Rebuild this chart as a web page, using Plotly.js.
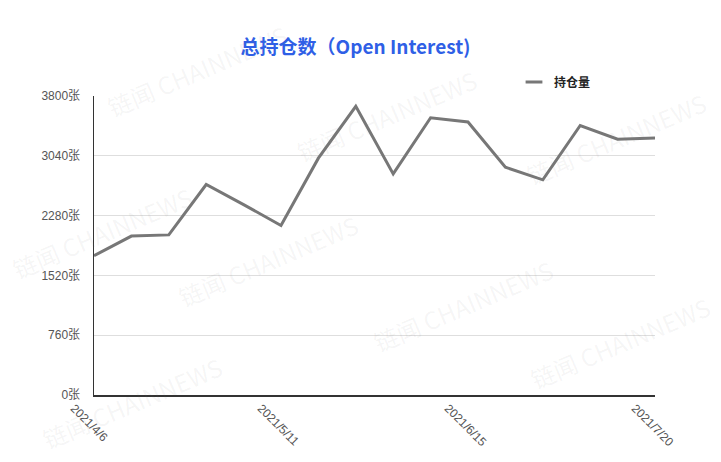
<!DOCTYPE html>
<html>
<head>
<meta charset="utf-8">
<script src="https://cdn.plot.ly/plotly-3.0.1.min.js"></script>
<style>html,body{margin:0;padding:0;background:#fff;}#chart{width:721px;height:462px;}</style>
</head>
<body>
<div id="chart"></div>
<script>
const dates = ["2021-04-06","2021-04-13","2021-04-20","2021-04-27","2021-05-04","2021-05-11","2021-05-18","2021-05-25","2021-06-01","2021-06-08","2021-06-15","2021-06-22","2021-06-29","2021-07-06","2021-07-13","2021-07-20"];
const openInterest = [1770, 2020, 2035, 2675, 2420, 2155, 3010, 3668, 2810, 3524, 3470, 2895, 2735, 3425, 3250, 3266];
const seriesName = "持仓量";
const yTicks = [0, 760, 1520, 2280, 3040, 3800];
const yTickText = yTicks.map(v => v + "张");
const xTickVals = ["2021-04-06","2021-05-11","2021-06-15","2021-07-20"];
const xTickText = ["2021/4/6","2021/5/11","2021/6/15","2021/7/20"];
const titleText = "总持仓数（Open Interest)";
const watermarkText = "链闻 CHAINNEWS";
const watermarkPos = [[197,70],[387,116],[616,138],[102,232],[268,260],[463,305],[620,342],[132,402]];

const font = "Liberation Sans, Noto Sans CJK SC, sans-serif";

const traces = [
  {x: dates, y: openInterest, type: "scatter", mode: "lines", name: seriesName,
   line: {color: "#777777", width: 3}, showlegend: false, hoverinfo: "skip"},
  {x: [null], y: [null], type: "scatter", mode: "markers", name: seriesName,
   marker: {symbol: "line-ew-open", size: 12, color: "#777777", line: {color: "#777777", width: 3}},
   showlegend: true}
];

const annotations = watermarkPos.map(p => ({
  xref: "paper", yref: "paper",
  x: (p[0] - 94) / 561, y: (395 - p[1]) / 299,
  xanchor: "center", yanchor: "middle",
  text: watermarkText, showarrow: false, textangle: -23,
  font: {family: "Noto Sans CJK SC, sans-serif", size: 24, color: "rgba(120,120,120,0.07)"}
}));

const layout = {
  width: 721, height: 462,
  margin: {l: 94, r: 66, t: 96, b: 67},
  paper_bgcolor: "#ffffff", plot_bgcolor: "#ffffff",
  title: {text: "<b>" + titleText + "</b>", x: 0.493, xanchor: "center", yref: "container", y: (462 - 47) / 462, yanchor: "middle",
          font: {family: "Noto Sans CJK SC, sans-serif", size: 19, color: "#2f5fe6"}},
  xaxis: {
    type: "date", range: ["2021-04-06", "2021-07-20"],
    tickvals: xTickVals, ticktext: xTickText, tickangle: 45, ticklabelshift: -20,
    showgrid: false, showline: true, linecolor: "#333333", linewidth: 1.5,
    ticks: "", tickfont: {family: font, size: 12, color: "#555555"},
    zeroline: false, fixedrange: true
  },
  yaxis: {
    range: [0, 3800], tickvals: yTicks, ticktext: yTickText,
    showgrid: true, gridcolor: "#dedede", gridwidth: 1,
    showline: true, linecolor: "#333333", linewidth: 1.5,
    ticks: "", ticklabelstandoff: 10,
    tickfont: {family: font, size: 12, color: "#555555"},
    zeroline: false, fixedrange: true
  },
  legend: {x: (514 - 94) / 561, y: 1 + (96 - 82) / 299, xanchor: "left", yanchor: "middle",
           orientation: "h", bgcolor: "rgba(0,0,0,0)",
           font: {family: "Noto Sans CJK SC, sans-serif", size: 12, color: "#222222", weight: "bold"}},
  annotations: annotations,
  showlegend: true
};

Plotly.newPlot("chart", traces, layout, {displayModeBar: false, staticPlot: true});
</script>
</body>
</html>
